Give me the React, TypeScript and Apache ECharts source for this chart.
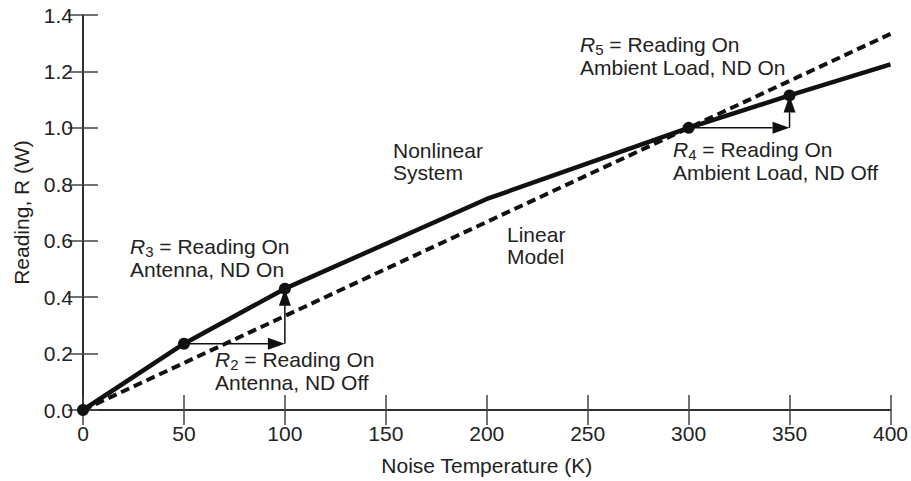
import React, { useEffect, useRef } from "react";
import * as echarts from "echarts";

const xTicks = [0, 50, 100, 150, 200, 250, 300, 350, 400];
const nonlinearX = [0, 50, 100, 200, 300, 350, 400];
const nonlinearY = [0, 0.235, 0.43, 0.748, 1.0, 1.115, 1.225];
const linearX = [0, 400];
const linearY = [0, 1.333];
const markedX = [0, 50, 100, 300, 350];
const markedY = [0, 0.235, 0.43, 1.0, 1.115];
// arrows: [x1, y1, x2, y2]
const arrows = [
  [50, 0.235, 100, 0.235],
  [100, 0.235, 100, 0.43],
  [300, 1.0, 350, 1.0],
  [350, 1.0, 350, 1.115],
];

const FONT = "'Liberation Sans', Arial, Helvetica, sans-serif";
const TXT = "#222";
const FS = 21;

function rt(sub: string | null, l1: string, l2: string) {
  if (sub) return `{i|R}{s|${sub}}{n| = ${l1}}\n{n|${l2}}`;
  return `{n|${l1}}\n{n|${l2}}`;
}
const rich = {
  i: { fontStyle: "italic", fontSize: FS, lineHeight: 22, fontFamily: FONT, fill: TXT },
  s: { fontSize: 15, lineHeight: 24, verticalAlign: "bottom", fontFamily: FONT, fill: TXT },
  n: { fontSize: FS, lineHeight: 22, fontFamily: FONT, fill: TXT },
};

export default function App() {
  const ref = useRef<HTMLDivElement>(null);
  useEffect(() => {
    const chart = echarts.init(ref.current!, null, { renderer: "svg" });
    const label = (x: number, y: number, text: string) => ({
      type: "text",
      left: x,
      top: y,
      style: { text, rich, fontFamily: FONT, fontSize: FS, fill: TXT },
    });
    const tick = { show: true, inside: true, length: 15, lineStyle: { color: "#444", width: 1.5 } };
    const line = { show: true, lineStyle: { color: "#222", width: 1.5 } };
    chart.setOption({
      animation: false,
      backgroundColor: "#fff",
      grid: { left: 83, right: 17, top: 15, bottom: 69, containLabel: false },
      xAxis: [
        {
          type: "value",
          min: 0,
          max: 400,
          interval: 50,
          name: "Noise Temperature (K)",
          nameLocation: "middle",
          nameGap: 45,
          nameTextStyle: { fontSize: FS, color: TXT, fontFamily: FONT },
          axisLine: line,
          axisTick: tick,
          axisLabel: { fontSize: FS, color: TXT, fontFamily: FONT, margin: 13 },
          splitLine: { show: false },
        },
        {
          type: "value",
          position: "top",
          min: 0,
          max: 400,
          interval: 50,
          axisLine: line,
          axisTick: tick,
          axisLabel: { show: false },
          splitLine: { show: false },
        },
      ],
      yAxis: [
        {
          type: "value",
          min: 0,
          max: 1.4,
          interval: 0.2,
          name: "Reading, R (W)",
          nameLocation: "middle",
          nameGap: 51,
          nameTextStyle: { fontSize: FS, color: TXT, fontFamily: FONT },
          axisLine: line,
          axisTick: tick,
          axisLabel: { fontSize: FS, color: TXT, fontFamily: FONT, margin: 10, formatter: (v: number) => v.toFixed(1) },
          splitLine: { show: false },
        },
        {
          type: "value",
          position: "right",
          min: 0,
          max: 1.4,
          interval: 0.2,
          axisLine: line,
          axisTick: tick,
          axisLabel: { show: false },
          splitLine: { show: false },
        },
      ],
      series: [
        {
          type: "line",
          data: linearX.map((x, i) => [x, linearY[i]]),
          showSymbol: false,
          symbol: "none",
          lineStyle: { color: "#111", width: 4, type: [9, 5] },
          z: 2,
        },
        {
          type: "line",
          data: nonlinearX.map((x, i) => [x, nonlinearY[i]]),
          showSymbol: false,
          symbol: "none",
          lineStyle: { color: "#111", width: 4.5 },
          z: 3,
        },
        {
          type: "custom",
          z: 4,
          data: arrows,
          renderItem: (params: any, api: any) => {
            const p1 = api.coord([api.value(0), api.value(1)]);
            const p2 = api.coord([api.value(2), api.value(3)]);
            const dx = p2[0] - p1[0];
            const dy = p2[1] - p1[1];
            const len = Math.sqrt(dx * dx + dy * dy);
            const ux = dx / len;
            const uy = dy / len;
            const hl = 17;
            const hw = 6;
            const bx = p2[0] - ux * hl;
            const by = p2[1] - uy * hl;
            return {
              type: "group",
              children: [
                {
                  type: "line",
                  shape: { x1: p1[0], y1: p1[1], x2: bx, y2: by },
                  style: { stroke: "#111", lineWidth: 1.5 },
                },
                {
                  type: "polygon",
                  shape: {
                    points: [
                      [p2[0], p2[1]],
                      [bx - uy * hw, by + ux * hw],
                      [bx + uy * hw, by - ux * hw],
                    ],
                  },
                  style: { fill: "#111" },
                },
              ],
            };
          },
        },
        {
          type: "scatter",
          data: markedX.map((x, i) => [x, markedY[i]]),
          symbol: "circle",
          symbolSize: 12,
          itemStyle: { color: "#111", opacity: 1 },
          z: 5,
        },
      ],
      graphic: [
        label(130, 236, rt("3", "Reading On", "Antenna, ND On")),
        label(215, 349, rt("2", "Reading On", "Antenna, ND Off")),
        label(580, 34, rt("5", "Reading On", "Ambient Load, ND On")),
        label(673, 139, rt("4", "Reading On", "Ambient Load, ND Off")),
        label(393, 140, rt(null, "Nonlinear", "System")),
        label(507, 224, rt(null, "Linear", "Model")),
      ],
    });
    return () => chart.dispose();
  }, []);
  return <div ref={ref} style={{ width: 911, height: 481, position: "absolute", left: 0, top: 0 }} />;
}
